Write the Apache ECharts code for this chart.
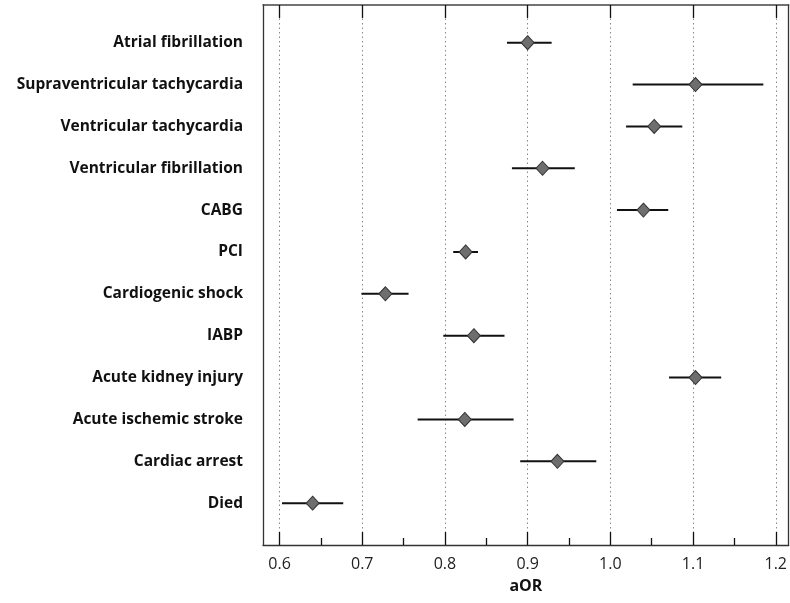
<!DOCTYPE html>
<html>
<head>
<meta charset="utf-8">
<script src="https://cdn.jsdelivr.net/npm/echarts@6/dist/echarts.min.js"></script>
<style>
html,body{margin:0;padding:0;background:#fff;}
#chart{width:790px;height:603px;}
</style>
</head>
<body>
<div id="chart"></div>
<script>
const categories = ['Atrial fibrillation','Supraventricular tachycardia','Ventricular tachycardia','Ventricular fibrillation','CABG','PCI','Cardiogenic shock','IABP','Acute kidney injury','Acute ischemic stroke','Cardiac arrest','Died'];
const aOR   = [0.900, 1.103, 1.053, 0.918, 1.040, 0.825, 0.728, 0.835, 1.103, 0.824, 0.936, 0.640];
const lower = [0.875, 1.027, 1.019, 0.881, 1.008, 0.810, 0.699, 0.798, 1.071, 0.767, 0.891, 0.603];
const upper = [0.929, 1.185, 1.087, 0.957, 1.070, 0.840, 0.756, 0.872, 1.134, 0.883, 0.983, 0.677];
const majorTicks = [0.6, 0.7, 0.8, 0.9, 1.0, 1.1, 1.2];
const minorTicks = [0.65, 0.75, 0.85, 0.95, 1.05, 1.15];
const rowIndex = categories.map((c, i) => i);

const FONT = '"Open Sans", "Noto Sans", sans-serif';
const X_MIN = 0.58, X_MAX = 1.2157;

const chart = echarts.init(document.getElementById('chart'), null, {renderer: 'canvas'});

const ciData = categories.map((c, i) => [lower[i], upper[i], i]);
const ptData = categories.map((c, i) => [aOR[i], i]);

chart.setOption({
  animation: false,
  grid: {left: 263, right: 1, top: 5, bottom: 58, containLabel: false},
  xAxis: [
    {
      type: 'value', position: 'bottom', min: X_MIN, max: X_MAX,
      name: 'aOR', nameLocation: 'middle', nameGap: 33,
      nameTextStyle: {fontFamily: FONT, fontWeight: 'bold', fontSize: 16, color: '#111'},
      axisLine: {show: true, onZero: false, lineStyle: {color: '#333', width: 1.3}},
      axisTick: {show: true, inside: true, length: 13, customValues: majorTicks, lineStyle: {color: '#111', width: 1.3}},
      axisLabel: {customValues: majorTicks, formatter: v => v.toFixed(1), fontFamily: FONT, fontSize: 16, color: '#222', margin: 11},
      splitLine: {show: true, lineStyle: {type: [1.5, 3], color: '#888', width: 1}},
      minorTick: {show: false}
    },
    {
      type: 'value', position: 'bottom', min: X_MIN, max: X_MAX,
      axisLine: {show: false, onZero: false},
      axisTick: {show: true, inside: true, length: 7, customValues: minorTicks, lineStyle: {color: '#111', width: 1.3}},
      axisLabel: {show: false},
      splitLine: {show: false}
    },
    {
      type: 'value', position: 'top', min: X_MIN, max: X_MAX,
      axisLine: {show: true, onZero: false, lineStyle: {color: '#444', width: 1.5}},
      axisTick: {show: true, inside: true, length: 13, customValues: majorTicks, lineStyle: {color: '#111', width: 1.3}},
      axisLabel: {show: false},
      splitLine: {show: false}
    }
  ],
  yAxis: [
    {
      type: 'value', inverse: true, min: -0.9, max: 12,
      axisLine: {show: true, onZero: false, lineStyle: {color: '#333', width: 1.3}},
      axisTick: {show: false},
      axisLabel: {customValues: rowIndex, formatter: v => categories[Math.round(v)] || '', fontFamily: FONT, fontWeight: 'bold', fontSize: 15.5, color: '#111', margin: 20},
      splitLine: {show: false}
    },
    {
      type: 'value', inverse: true, min: -0.9, max: 12, position: 'right',
      axisLine: {show: true, onZero: false, lineStyle: {color: '#333', width: 1.3}},
      axisTick: {show: false},
      axisLabel: {show: false},
      splitLine: {show: false}
    }
  ],
  series: [
    {
      type: 'custom',
      xAxisIndex: 0, yAxisIndex: 0,
      data: ciData,
      renderItem: function (params, api) {
        const p1 = api.coord([api.value(0), api.value(2)]);
        const p2 = api.coord([api.value(1), api.value(2)]);
        return {
          type: 'line',
          shape: {x1: p1[0], y1: p1[1], x2: p2[0], y2: p2[1]},
          style: {stroke: '#111', lineWidth: 2}
        };
      },
      z: 2
    },
    {
      type: 'scatter',
      xAxisIndex: 0, yAxisIndex: 0,
      data: ptData,
      symbol: 'diamond',
      symbolSize: [13, 14],
      itemStyle: {color: '#6e6e6e', borderColor: '#333', borderWidth: 1, opacity: 1},
      z: 3
    }
  ]
});
</script>
</body>
</html>
